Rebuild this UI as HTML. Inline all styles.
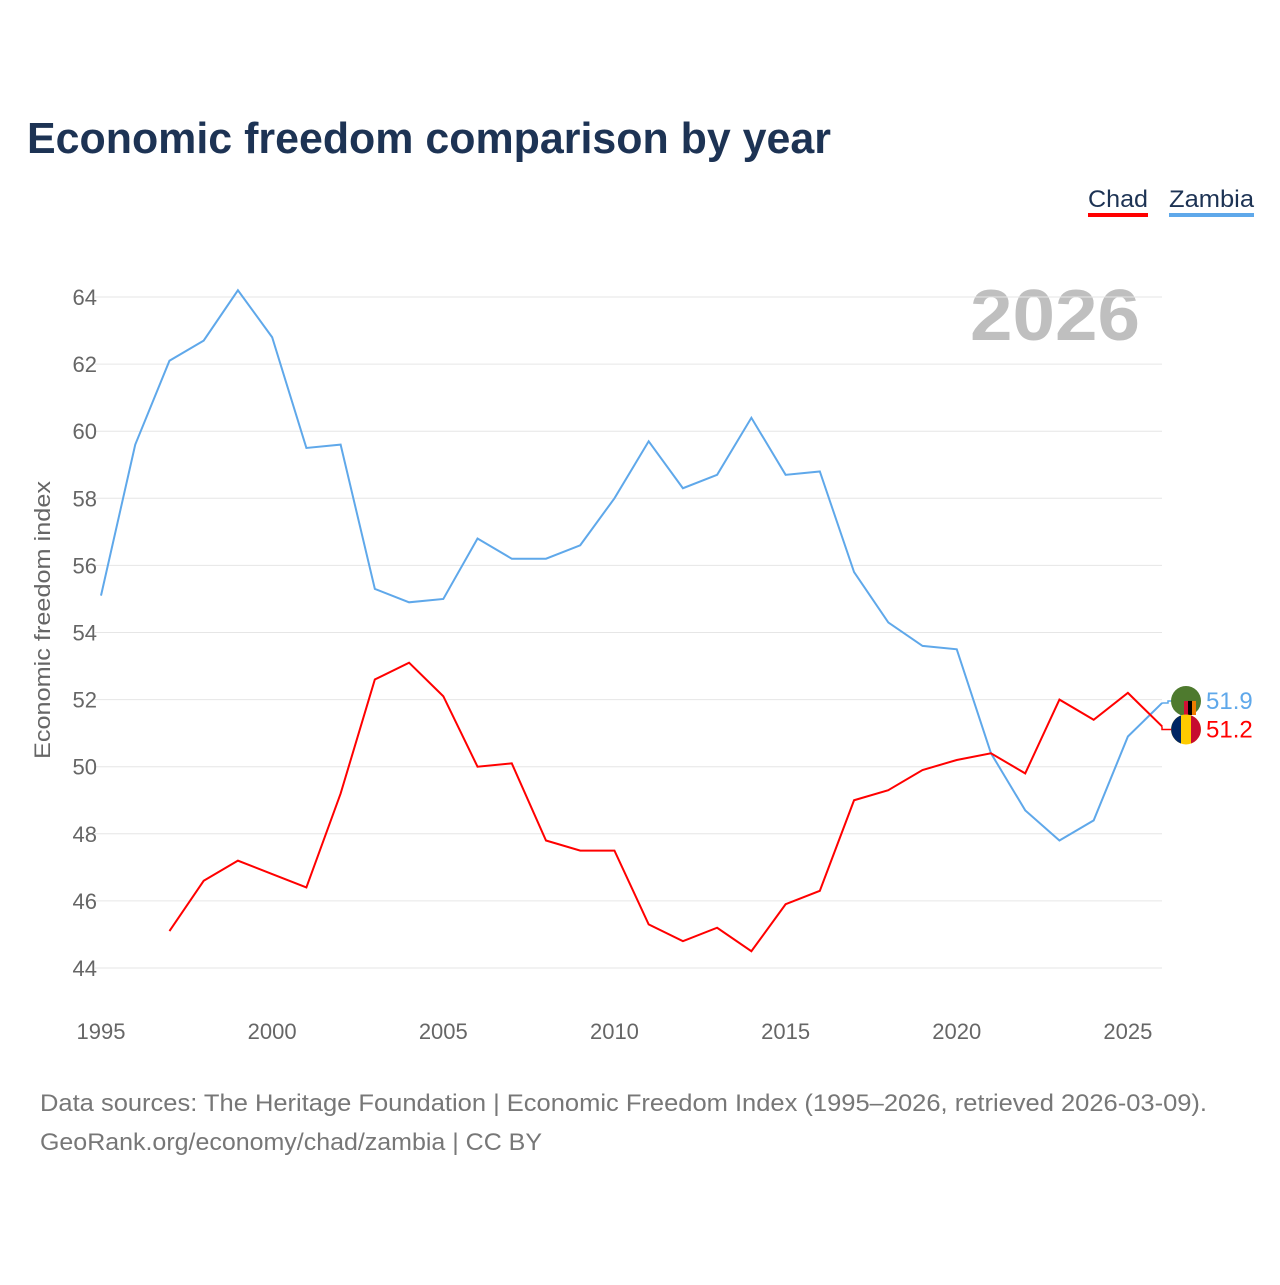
<!DOCTYPE html>
<html><head><meta charset="utf-8"><style>
body{margin:0;background:#fff;font-family:"Liberation Sans",sans-serif}
</style></head><body>
<svg width="1280" height="1280" xmlns="http://www.w3.org/2000/svg" id="chart">
<text x="27" y="153" font-size="44" font-weight="bold" fill="#1d3354" textLength="804" lengthAdjust="spacingAndGlyphs">Economic freedom comparison by year</text>
<g><text x="1088" y="207" font-size="24" fill="#1d3354" textLength="60" lengthAdjust="spacingAndGlyphs">Chad</text><rect x="1088" y="213" width="60" height="4" fill="#ff0000"/></g>
<g><text x="1169" y="207" font-size="24" fill="#1d3354" textLength="85" lengthAdjust="spacingAndGlyphs">Zambia</text><rect x="1169" y="213" width="85" height="4" fill="#5fa8ea"/></g>
<text x="1140" y="340" font-size="72" font-weight="bold" fill="#bfbfbf" text-anchor="end" textLength="170" lengthAdjust="spacingAndGlyphs">2026</text>
<text transform="translate(50,620) rotate(-90)" font-size="22" fill="#666" text-anchor="middle" textLength="278" lengthAdjust="spacingAndGlyphs">Economic freedom index</text>
<g id="grid"></g><g id="xt"></g><g id="lines"></g><g id="ends"></g>
<text x="40" y="1111" font-size="24" fill="#777" textLength="1167" lengthAdjust="spacingAndGlyphs">Data sources: The Heritage Foundation | Economic Freedom Index (1995–2026, retrieved 2026-03-09).</text>
<text x="40" y="1150" font-size="24" fill="#777" textLength="502" lengthAdjust="spacingAndGlyphs">GeoRank.org/economy/chad/zambia | CC BY</text>
</svg>
<script>
const years=[1995,1996,1997,1998,1999,2000,2001,2002,2003,2004,2005,2006,2007,2008,2009,2010,2011,2012,2013,2014,2015,2016,2017,2018,2019,2020,2021,2022,2023,2024,2025,2026];
const zambia=[55.1,59.6,62.1,62.7,64.2,62.8,59.5,59.6,55.3,54.9,55.0,56.8,56.2,56.2,56.6,58.0,59.7,58.3,58.7,60.4,58.7,58.8,55.8,54.3,53.6,53.5,50.4,48.7,47.8,48.4,50.9,51.9];
const chad=[null,null,45.1,46.6,47.2,46.8,46.4,49.2,52.6,53.1,52.1,50.0,50.1,47.8,47.5,47.5,45.3,44.8,45.2,44.5,45.9,46.3,49.0,49.3,49.9,50.2,50.4,49.8,52.0,51.4,52.2,51.2];
const yTicks=[44,46,48,50,52,54,56,58,60,62,64];
const xTicks=[1995,2000,2005,2010,2015,2020,2025];
const X=y=>101+(y-1995)*34.23, Y=v=>968-(v-44)*33.55;
const NS="http://www.w3.org/2000/svg";
function mk(t,a,p){const e=document.createElementNS(NS,t);for(const k in a)e.setAttribute(k,a[k]);document.getElementById(p).appendChild(e);return e;}
yTicks.forEach(v=>{
 const l=mk('line',{x1:95,x2:1162,y1:Y(v),y2:Y(v),stroke:'#e6e6e6'},'grid');
 
 
 const t=mk('text',{x:97,y:Y(v)+8,'font-size':22,fill:'#666','text-anchor':'end'},'grid');t.textContent=v;
 
 
});
xTicks.forEach(v=>{
 const t=mk('text',{x:X(v),y:1039,'font-size':22,fill:'#666','text-anchor':'middle'},'xt');t.textContent=v;
 
 
});
function line(vals,col,name){
 let d='';vals.forEach((v,i)=>{if(v==null)return;d+=(d?'L':'M')+X(years[i])+','+Y(v);});
 const p=mk('path',{d:d,fill:'none',stroke:col,'stroke-width':2},'lines');
 
 
}
line(zambia,'#5fa8ea','zambia-line');line(chad,'#ff0000','chad-line');
const zl=zambia[zambia.length-1], cl=chad[chad.length-1];
const zy=Y(zl)-2, cy=Y(cl)+3;
mk('path',{d:`M${X(2026)},${Y(zl)}L1168,${Y(zl)}L1168,${zy}L1172,${zy}`,fill:'none',stroke:'#5fa8ea','stroke-width':1.5},'ends');
mk('path',{d:`M${X(2026)},${Y(cl)}L1162,${Y(cl)}L1162,${cy}L1172,${cy}`,fill:'none',stroke:'#ff0000','stroke-width':1.5},'ends');
const zf=mk('circle',{cx:1186,cy:zy,r:15,fill:'#4e7a2e'},'ends');


mk('rect',{x:1184,y:zy,width:12,height:14,fill:'#d21034'},'ends');
mk('rect',{x:1188,y:zy,width:4,height:14,fill:'#000'},'ends');
mk('rect',{x:1192,y:zy,width:4,height:14,fill:'#ef7d00'},'ends');
const cf=mk('circle',{cx:1186,cy:cy,r:15,fill:'#fecb00'},'ends');


mk('path',{d:`M1181,${cy-14.1}A15,15 0 0 0 1181,${cy+14.1}Z`,fill:'#002664'},'ends');
mk('path',{d:`M1191,${cy-14.1}A15,15 0 0 1 1191,${cy+14.1}Z`,fill:'#c60c30'},'ends');
const zt=mk('text',{x:1206,y:zy+8,'font-size':24,fill:'#5fa8ea'},'ends');zt.textContent=zl;


const ct=mk('text',{x:1206,y:cy+8,'font-size':24,fill:'#ff0000'},'ends');ct.textContent=cl;


</script>
</body></html>
